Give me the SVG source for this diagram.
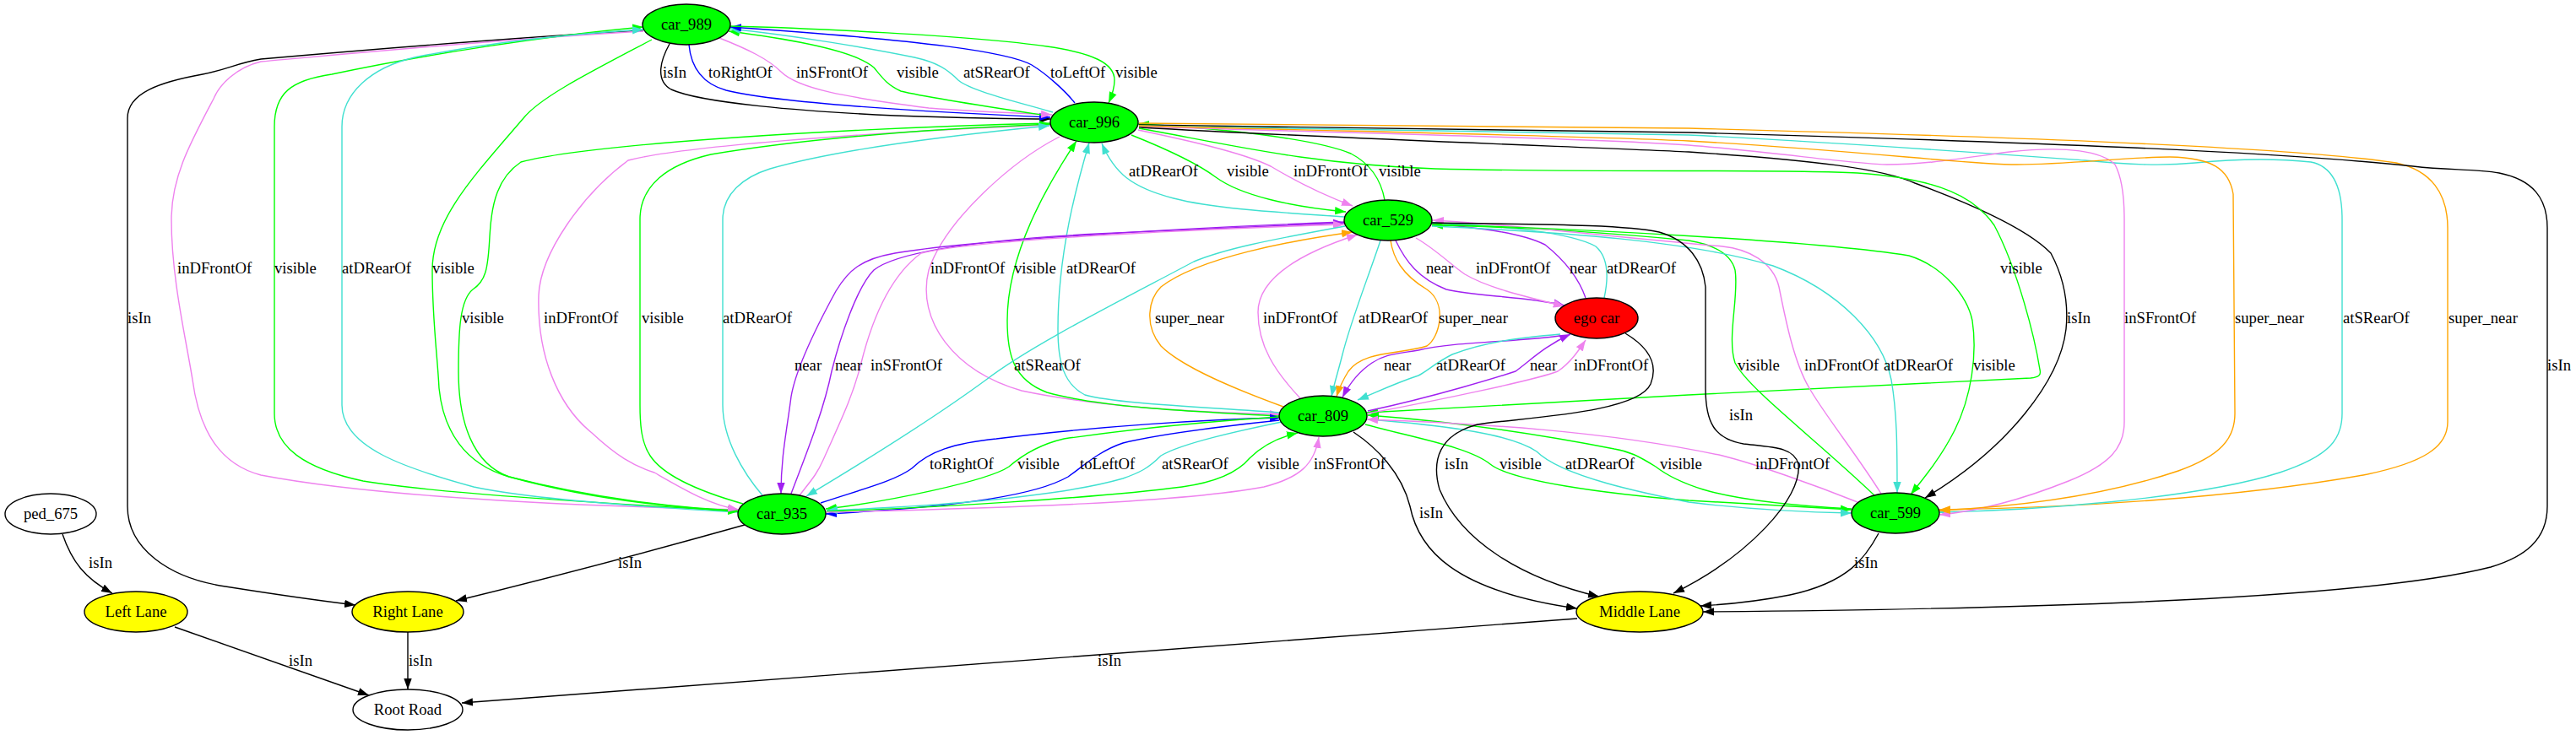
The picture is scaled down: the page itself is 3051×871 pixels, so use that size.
<svg xmlns="http://www.w3.org/2000/svg" width="3051" height="871" viewBox="0 0 3051 871">
<style>
.e{fill:none;stroke-width:1.4}
.k{stroke:#000;marker-end:url(#ak)}
.b{stroke:#0000ff;marker-end:url(#ab)}
.g{stroke:#00ff00;marker-end:url(#ag)}
.v{stroke:#ee82ee;marker-end:url(#av)}
.c{stroke:#40e0d0;marker-end:url(#ac)}
.p{stroke:#a020f0;marker-end:url(#ap)}
.o{stroke:#ffa500;marker-end:url(#ao)}
text{font-family:"Liberation Serif","Times New Roman",serif;font-size:18.67px;fill:#000}
.n{text-anchor:middle}
ellipse{stroke:#000;stroke-width:1.4}
.gr{fill:#00ff00}.rd{fill:#ff0000}.ye{fill:#ffff00}.wh{fill:#fff}
</style>
<defs>
<marker id="ak" viewBox="0 0 14 10" refX="13" refY="5" markerWidth="14" markerHeight="10" markerUnits="userSpaceOnUse" orient="auto"><path d="M0,0.3 L13,5 L0,9.7 z" fill="#000"/></marker>
<marker id="ab" viewBox="0 0 14 10" refX="13" refY="5" markerWidth="14" markerHeight="10" markerUnits="userSpaceOnUse" orient="auto"><path d="M0,0.3 L13,5 L0,9.7 z" fill="#0000ff"/></marker>
<marker id="ag" viewBox="0 0 14 10" refX="13" refY="5" markerWidth="14" markerHeight="10" markerUnits="userSpaceOnUse" orient="auto"><path d="M0,0.3 L13,5 L0,9.7 z" fill="#00ff00"/></marker>
<marker id="av" viewBox="0 0 14 10" refX="13" refY="5" markerWidth="14" markerHeight="10" markerUnits="userSpaceOnUse" orient="auto"><path d="M0,0.3 L13,5 L0,9.7 z" fill="#ee82ee"/></marker>
<marker id="ac" viewBox="0 0 14 10" refX="13" refY="5" markerWidth="14" markerHeight="10" markerUnits="userSpaceOnUse" orient="auto"><path d="M0,0.3 L13,5 L0,9.7 z" fill="#40e0d0"/></marker>
<marker id="ap" viewBox="0 0 14 10" refX="13" refY="5" markerWidth="14" markerHeight="10" markerUnits="userSpaceOnUse" orient="auto"><path d="M0,0.3 L13,5 L0,9.7 z" fill="#a020f0"/></marker>
<marker id="ao" viewBox="0 0 14 10" refX="13" refY="5" markerWidth="14" markerHeight="10" markerUnits="userSpaceOnUse" orient="auto"><path d="M0,0.3 L13,5 L0,9.7 z" fill="#ffa500"/></marker>
</defs>
<rect width="3051" height="871" fill="#fff"/>
<g id="connectors">
<path class="e k" d="M793,52 C783,70 775,95 795,106 C830,122 950,132 1060,137 C1150,140 1200,141 1244,141"/>
<path class="e b" d="M816,53 C818,75 828,98 860,107 C920,122 1100,133 1244,139"/>
<path class="e v" d="M852,45 C885,58 910,70 925,85 C945,105 1000,115 1100,128 C1150,132 1200,134 1246,136"/>
<path class="e g" d="M1233,136 C1180,128 1100,116 1067,108 C1050,100 1045,92 1035,80 C1015,62 950,48 863,37"/>
<path class="e c" d="M1247,133 C1210,122 1150,108 1135,95 C1122,82 1110,74 1083,68 C1030,57 940,42 864,34"/>
<path class="e b" d="M1273,122 C1262,108 1240,88 1222,77 C1195,62 1100,48 865,32"/>
<path class="e g" d="M865,31 C950,33 1150,42 1240,55 C1295,63 1320,75 1320,95 C1320,105 1317,113 1313,122"/>
<path class="e k" d="M762,36 C600,45 400,62 309,70 C280,75 270,82 240,88 C190,97 151,110 151,140 L151,600 C151,650 200,685 267,695 C330,705 380,712 421,717"/>
<path class="e v" d="M762,37 C600,46 430,62 309,73 C280,80 260,100 253,117 C225,170 203,210 203,260 C203,330 220,400 228,450 C236,510 260,550 309,563 C450,590 700,600 875,604"/>
<path class="e g" d="M875,606 C700,595 520,585 430,570 C360,555 325,530 325,490 L325,150 C325,110 345,95 393,88 C500,65 650,42 762,32"/>
<path class="e c" d="M875,607 C750,600 620,590 561,577 C480,555 405,530 405,480 L405,150 C405,110 440,80 491,68 C580,50 680,40 762,35"/>
<path class="e g" d="M772,47 C700,85 640,115 620,140 C560,210 512,260 512,320 C512,380 518,420 520,460 C525,510 550,550 603,565 C700,590 800,602 875,605"/>
<path class="e g" d="M1244,146 C1000,152 700,170 617,192 C590,210 582,240 580,280 C578,320 575,333 560,343 C545,355 543,390 543,440 C543,500 560,550 603,565 C700,592 800,602 875,606"/>
<path class="e v" d="M1244,148 C1000,158 800,175 744,190 C690,230 640,300 638,350 C636,420 660,480 701,513 C730,540 750,552 775,560 C810,580 840,598 875,604"/>
<path class="e g" d="M880,597 C820,580 783,560 770,540 C760,525 758,505 758,480 L758,260 C758,220 790,195 842,183 C950,165 1100,153 1244,147"/>
<path class="e c" d="M903,587 C880,560 856,520 856,480 L856,260 C856,230 880,210 912,200 C1000,175 1150,158 1243,149"/>
<path class="e v" d="M1255,162 C1200,190 1120,260 1100,320 C1085,380 1130,440 1210,463 C1300,482 1420,489 1517,491"/>
<path class="e g" d="M1515,493 C1400,487 1300,482 1240,465 C1200,450 1193,420 1193,380 C1193,300 1240,220 1275,167"/>
<path class="e c" d="M1516,489 C1420,482 1320,478 1285,468 C1260,455 1253,430 1253,390 C1253,300 1275,220 1290,169"/>
<path class="e c" d="M1593,257 C1520,252 1440,248 1390,235 C1340,222 1320,205 1305,170"/>
<path class="e g" d="M1340,160 C1390,180 1420,195 1440,210 C1470,232 1530,245 1594,251"/>
<path class="e v" d="M1348,154 C1400,165 1470,180 1505,197 C1535,215 1570,232 1602,244"/>
<path class="e g" d="M1640,237 C1636,215 1625,195 1600,182 C1560,165 1450,152 1348,147"/>
<path class="e o" d="M1349,146 C1700,148 1900,150 2000,152 C2300,160 2700,172 2838,193 C2880,202 2899,230 2899,270 L2899,500 C2899,530 2870,548 2804,562 C2650,590 2450,602 2297,604"/>
<path class="e k" d="M1349,148 C1700,151 1900,154 2000,157 C2400,168 2700,180 2858,197 C2900,202 2930,200 2960,205 C3000,213 3017,235 3017,270 L3017,600 C3017,640 2990,660 2950,672 C2800,710 2400,722 2017,725"/>
<path class="e c" d="M1349,149 C1700,153 1900,157 2000,160 C2200,170 2400,185 2469,190 C2520,195 2560,197 2600,193 C2650,188 2700,188 2737,192 C2762,197 2774,220 2774,260 L2774,490 C2774,520 2760,540 2700,560 C2600,592 2400,605 2297,607"/>
<path class="e v" d="M1349,150 C1700,160 1900,165 2000,172 C2100,180 2200,195 2235,195 C2280,195 2320,188 2380,180 C2450,172 2490,180 2505,195 C2513,210 2516,230 2516,260 L2516,500 C2516,530 2500,550 2450,570 C2400,590 2350,605 2297,610"/>
<path class="e o" d="M1349,149 C1700,158 1900,162 2000,167 C2200,178 2330,195 2389,195 C2450,195 2520,186 2570,186 C2620,187 2640,200 2645,230 L2647,490 C2647,520 2630,540 2580,558 C2500,585 2400,600 2297,605"/>
<path class="e k" d="M1349,151 C1600,165 1900,175 2000,180 C2150,190 2230,200 2268,217 C2330,240 2400,270 2429,300 C2445,330 2450,360 2447,390 C2440,450 2380,530 2280,590"/>
<path class="e g" d="M1349,152 C1450,170 1550,195 1700,200 C1900,205 2100,200 2200,205 C2300,212 2340,235 2362,267 C2390,320 2410,400 2416,438 C2418,445 2414,447 2405,448 L2000,468 C1850,476 1700,485 1619,489"/>
<path class="e p" d="M1593,263 C1400,270 1150,285 1060,300 C1020,307 1005,320 990,345 C960,400 942,440 937,470 C932,510 925,540 925,585"/>
<path class="e p" d="M937,585 C950,550 975,490 985,440 C995,400 1015,340 1035,320 C1060,300 1150,285 1300,277 C1450,270 1530,266 1592,264"/>
<path class="e v" d="M947,587 C960,570 967,563 975,545 C995,500 1010,470 1020,430 C1030,390 1050,330 1091,300 C1150,285 1400,272 1592,266"/>
<path class="e c" d="M1593,268 C1500,285 1450,295 1414,310 C1320,360 1220,410 1168,450 C1100,500 1010,555 955,588"/>
<path class="e o" d="M1520,482 C1460,460 1400,435 1375,410 C1355,385 1360,355 1375,340 C1420,305 1530,285 1602,275"/>
<path class="e v" d="M1540,472 C1510,440 1490,410 1490,370 C1490,330 1540,300 1608,278"/>
<path class="e c" d="M1635,285 C1620,330 1600,380 1590,420 C1585,440 1580,455 1577,470"/>
<path class="e o" d="M1647,285 C1650,305 1660,325 1690,343 C1715,360 1705,400 1690,410 C1660,420 1615,415 1597,440 C1592,448 1586,460 1583,470"/>
<path class="e p" d="M1653,285 C1665,310 1680,330 1713,343 C1750,352 1800,350 1853,362"/>
<path class="e v" d="M1677,282 C1700,295 1720,315 1735,325 C1760,340 1800,350 1853,363"/>
<path class="e p" d="M1878,353 C1870,330 1855,310 1830,290 C1800,275 1750,270 1696,265"/>
<path class="e c" d="M1900,353 C1905,330 1905,305 1890,292 C1860,275 1780,268 1696,264"/>
<path class="e p" d="M1847,398 C1800,405 1720,405 1680,415 C1650,420 1640,420 1625,430 C1610,440 1598,455 1590,471"/>
<path class="e c" d="M1848,396 C1800,400 1760,405 1720,420 C1700,430 1690,440 1680,445 C1650,455 1630,465 1608,474"/>
<path class="e p" d="M1620,487 C1700,470 1780,445 1795,440 C1815,425 1830,410 1860,396"/>
<path class="e v" d="M1620,490 C1700,475 1820,450 1845,440 C1860,430 1870,415 1878,403"/>
<path class="e g" d="M2220,587 C2150,520 2070,460 2055,430 C2045,400 2060,350 2055,320 C2050,300 2030,290 2000,285 C1900,275 1780,268 1696,267"/>
<path class="e v" d="M2228,585 C2200,540 2160,490 2143,460 C2125,430 2115,380 2107,340 C2100,310 2070,295 2040,292 C1900,280 1780,265 1697,261"/>
<path class="e c" d="M1696,268 C1850,275 2000,285 2100,315 C2180,345 2230,400 2240,450 C2247,490 2247,530 2247,584"/>
<path class="e g" d="M1696,266 C1850,270 2150,285 2261,303 C2300,315 2330,350 2336,380 C2342,420 2335,470 2315,510 C2300,540 2280,565 2263,586"/>
<path class="e b" d="M972,596 C1020,580 1060,570 1080,555 C1100,535 1130,525 1180,520 C1300,505 1430,497 1517,495"/>
<path class="e g" d="M1516,494 C1420,500 1330,510 1260,520 C1230,527 1210,540 1195,553 C1170,570 1050,595 978,603"/>
<path class="e b" d="M1515,498 C1450,505 1370,515 1330,525 C1300,535 1280,555 1265,565 C1230,585 1150,600 978,609"/>
<path class="e c" d="M1518,500 C1470,510 1400,525 1375,540 C1360,555 1350,560 1330,567 C1250,590 1100,600 979,605"/>
<path class="e g" d="M979,606 C1100,602 1300,590 1400,577 C1450,570 1470,555 1480,543 C1495,528 1515,518 1537,513"/>
<path class="e v" d="M979,607 C1200,602 1400,595 1497,577 C1540,566 1557,550 1562,518"/>
<path class="e g" d="M1617,503 C1680,520 1740,530 1765,550 C1790,570 1900,585 2000,593 C2080,598 2140,601 2193,604"/>
<path class="e c" d="M1622,497 C1720,505 1790,515 1820,535 C1850,565 1950,585 2000,595 C2080,605 2140,607 2193,608"/>
<path class="e g" d="M2193,603 C2100,598 2050,590 2017,580 C1985,570 1970,560 1961,553 C1940,540 1930,535 1912,532 C1800,510 1700,498 1620,492"/>
<path class="e v" d="M2200,595 C2150,575 2080,550 2040,540 C1900,510 1750,502 1619,497"/>
<path class="e k" d="M882,622 C800,645 650,685 540,712"/>
<path class="e k" d="M1925,395 C1950,410 1965,430 1955,455 C1940,490 1800,495 1750,503 C1705,515 1695,545 1705,580 C1730,640 1800,685 1894,707"/>
<path class="e k" d="M1696,264 C1800,266 1920,265 1965,275 C2000,285 2017,310 2020,340 L2020,460 C2020,500 2030,520 2065,526 C2100,530 2125,530 2130,550 C2135,590 2070,660 1982,703"/>
<path class="e k" d="M1603,512 C1630,530 1660,560 1670,600 C1680,650 1720,700 1868,721"/>
<path class="e k" d="M2225,632 C2210,660 2190,690 2120,705 C2080,713 2050,716 2014,718"/>
<path class="e k" d="M74,633 C85,665 100,685 133,703"/>
<path class="e k" d="M207,743 L437,824"/>
<path class="e k" d="M483,749 L483,817"/>
<path class="e k" d="M1868,733 L547,833"/>
<text x="785" y="92">isIn</text>
<text x="839" y="92">toRightOf</text>
<text x="943" y="92">inSFrontOf</text>
<text x="1062" y="92">visible</text>
<text x="1141" y="92">atSRearOf</text>
<text x="1244" y="92">toLeftOf</text>
<text x="1321" y="92">visible</text>
<text x="1337" y="209">atDRearOf</text>
<text x="1453" y="209">visible</text>
<text x="1532" y="209">inDFrontOf</text>
<text x="1633" y="209">visible</text>
<text x="210" y="324">inDFrontOf</text>
<text x="325" y="324">visible</text>
<text x="405" y="324">atDRearOf</text>
<text x="512" y="324">visible</text>
<text x="1102" y="324">inDFrontOf</text>
<text x="1201" y="324">visible</text>
<text x="1263" y="324">atDRearOf</text>
<text x="1689" y="324">near</text>
<text x="1748" y="324">inDFrontOf</text>
<text x="1859" y="324">near</text>
<text x="1903" y="324">atDRearOf</text>
<text x="2369" y="324">visible</text>
<text x="151" y="383">isIn</text>
<text x="547" y="383">visible</text>
<text x="644" y="383">inDFrontOf</text>
<text x="760" y="383">visible</text>
<text x="856" y="383">atDRearOf</text>
<text x="1368" y="383">super_near</text>
<text x="1496" y="383">inDFrontOf</text>
<text x="1609" y="383">atDRearOf</text>
<text x="1704" y="383">super_near</text>
<text x="2448" y="383">isIn</text>
<text x="2516" y="383">inSFrontOf</text>
<text x="2647" y="383">super_near</text>
<text x="2775" y="383">atSRearOf</text>
<text x="2900" y="383">super_near</text>
<text x="941" y="439">near</text>
<text x="989" y="439">near</text>
<text x="1031" y="439">inSFrontOf</text>
<text x="1201" y="439">atSRearOf</text>
<text x="1639" y="439">near</text>
<text x="1701" y="439">atDRearOf</text>
<text x="1812" y="439">near</text>
<text x="1864" y="439">inDFrontOf</text>
<text x="2058" y="439">visible</text>
<text x="2137" y="439">inDFrontOf</text>
<text x="2231" y="439">atDRearOf</text>
<text x="2337" y="439">visible</text>
<text x="3017" y="439">isIn</text>
<text x="2048" y="498">isIn</text>
<text x="1101" y="556">toRightOf</text>
<text x="1205" y="556">visible</text>
<text x="1279" y="556">toLeftOf</text>
<text x="1376" y="556">atSRearOf</text>
<text x="1489" y="556">visible</text>
<text x="1556" y="556">inSFrontOf</text>
<text x="1711" y="556">isIn</text>
<text x="1776" y="556">visible</text>
<text x="1854" y="556">atDRearOf</text>
<text x="1966" y="556">visible</text>
<text x="2079" y="556">inDFrontOf</text>
<text x="1681" y="614">isIn</text>
<text x="105" y="673">isIn</text>
<text x="732" y="673">isIn</text>
<text x="2196" y="673">isIn</text>
<text x="342" y="789">isIn</text>
<text x="484" y="789">isIn</text>
<text x="1300" y="789">isIn</text>
</g>
<g id="node-car_989"><ellipse class="gr" cx="813" cy="29" rx="52" ry="24"/><text class="n" x="813" y="35">car_989</text></g>
<g id="node-car_996"><ellipse class="gr" cx="1296" cy="145" rx="52" ry="24"/><text class="n" x="1296" y="151">car_996</text></g>
<g id="node-car_529"><ellipse class="gr" cx="1644" cy="261" rx="52" ry="24"/><text class="n" x="1644" y="267">car_529</text></g>
<g id="node-ego_car"><ellipse class="rd" cx="1891" cy="377" rx="49" ry="24"/><text class="n" x="1891" y="383">ego car</text></g>
<g id="node-car_809"><ellipse class="gr" cx="1567" cy="493" rx="52" ry="24"/><text class="n" x="1567" y="499">car_809</text></g>
<g id="node-car_935"><ellipse class="gr" cx="926" cy="609" rx="52" ry="24"/><text class="n" x="926" y="615">car_935</text></g>
<g id="node-car_599"><ellipse class="gr" cx="2245" cy="608" rx="52" ry="24"/><text class="n" x="2245" y="614">car_599</text></g>
<g id="node-ped_675"><ellipse class="wh" cx="60" cy="609" rx="54" ry="24"/><text class="n" x="60" y="615">ped_675</text></g>
<g id="node-left_lane"><ellipse class="ye" cx="161" cy="725" rx="61" ry="24"/><text class="n" x="161" y="731">Left Lane</text></g>
<g id="node-right_lane"><ellipse class="ye" cx="483" cy="725" rx="66" ry="24"/><text class="n" x="483" y="731">Right Lane</text></g>
<g id="node-middle_lane"><ellipse class="ye" cx="1942" cy="725" rx="75" ry="24"/><text class="n" x="1942" y="731">Middle Lane</text></g>
<g id="node-root_road"><ellipse class="wh" cx="483" cy="841" rx="65" ry="24"/><text class="n" x="483" y="847">Root Road</text></g>
</svg>
